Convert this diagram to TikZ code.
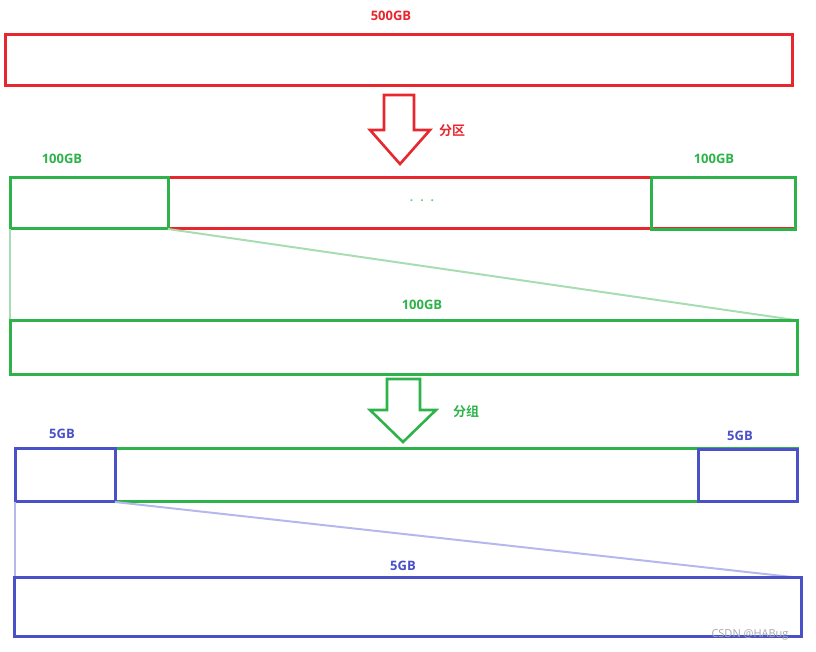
\documentclass[tikz,border=0pt]{standalone}
\usepackage{fontspec}
\setmainfont{Open Sans}
\newfontfamily\cjk{Noto Sans CJK SC}[BoldFont={* Bold}]
\definecolor{cred}{HTML}{E8262E}
\definecolor{cgreen}{HTML}{2DB34A}
\definecolor{cblue}{HTML}{4A50C8}
\definecolor{lgreen}{HTML}{A8DDB3}
\definecolor{lblue}{HTML}{B5B8EC}
\definecolor{cdots}{HTML}{6CCB85}
\tikzset{
  box/.style={line width=3pt, inner sep=0pt},
  lbl/.style={font=\fontsize{13}{15}\selectfont\bfseries, inner sep=0pt},
  cjklbl/.style={font=\cjk\fontsize{13}{15}\selectfont\bfseries, inner sep=0pt},
  guide/.style={line width=2pt},
  bigarrow/.style={line width=2.6pt, fill=white, line join=miter}
}
\begin{document}
\begin{tikzpicture}[x=1pt,y=-1pt]
\useasboundingbox (0,0) rectangle (816,651);
% row 1
\draw[box, draw=cred] (5,34) rectangle (792,85);
\node[lbl, text=cred] (t500) at (391,16) {500GB};
% red arrow
\draw[bigarrow, draw=cred] (384,95) -- (414,95) -- (414,130) -- (430,130) -- (400,164) -- (370,130) -- (384,130) -- cycle;
\node[cjklbl, text=cred] (fq) at (452,131) {分区};
% row 2
\draw[box, draw=cred] (168,177) rectangle (795,228);
\draw[box, draw=cgreen] (10,177) rectangle (168,228);
\draw[box, draw=cgreen] (651,177) rectangle (795,229);
\node[lbl, text=cgreen] (t100a) at (62,159) {100GB};
\node[lbl, text=cgreen] (t100b) at (714,159) {100GB};
\node[inner sep=0pt, text=cdots, font=\fontsize{12}{12}\selectfont\bfseries] (dots) at (422,201) {.\hspace{7pt}.\hspace{7pt}.};
% guides
\coordinate (g1a) at (10,229);
\coordinate (g1b) at (10,320);
\coordinate (g2a) at (168,229);
\coordinate (g2b) at (795,320);
\draw[guide, lgreen] (g1a) -- (g1b);
\draw[guide, lgreen] (g2a) -- (g2b);
% row 3
\draw[box, draw=cgreen] (10,320) rectangle (797,374);
\node[lbl, text=cgreen] (t100c) at (422,305) {100GB};
% green arrow
\draw[bigarrow, draw=cgreen] (387,379) -- (420,379) -- (420,410) -- (436,410) -- (403,442) -- (370,410) -- (387,410) -- cycle;
\node[cjklbl, text=cgreen] (fz) at (466,412) {分组};
% row 4
\draw[box, draw=cgreen] (15,448) rectangle (797,501);
\draw[box, draw=cblue] (15,448) rectangle (115,501);
\draw[box, draw=cblue] (698,449) rectangle (797,501);
\node[lbl, text=cblue] (t5a) at (62,434) {5GB};
\node[lbl, text=cblue] (t5b) at (740,436) {5GB};
% guides
\coordinate (h1a) at (15,502);
\coordinate (h1b) at (15,577);
\coordinate (h2a) at (115,502);
\coordinate (h2b) at (792,577);
\draw[guide, lblue] (h1a) -- (h1b);
\draw[guide, lblue] (h2a) -- (h2b);
% row 5
\draw[box, draw=cblue] (14,577) rectangle (801,636);
\node[lbl, text=cblue] (t5c) at (403,566) {5GB};
\node[inner sep=0pt, text=black!35, font=\fontsize{11}{12}\selectfont] (wm) at (750,635) {CSDN @HABug};
\end{tikzpicture}
\end{document}
